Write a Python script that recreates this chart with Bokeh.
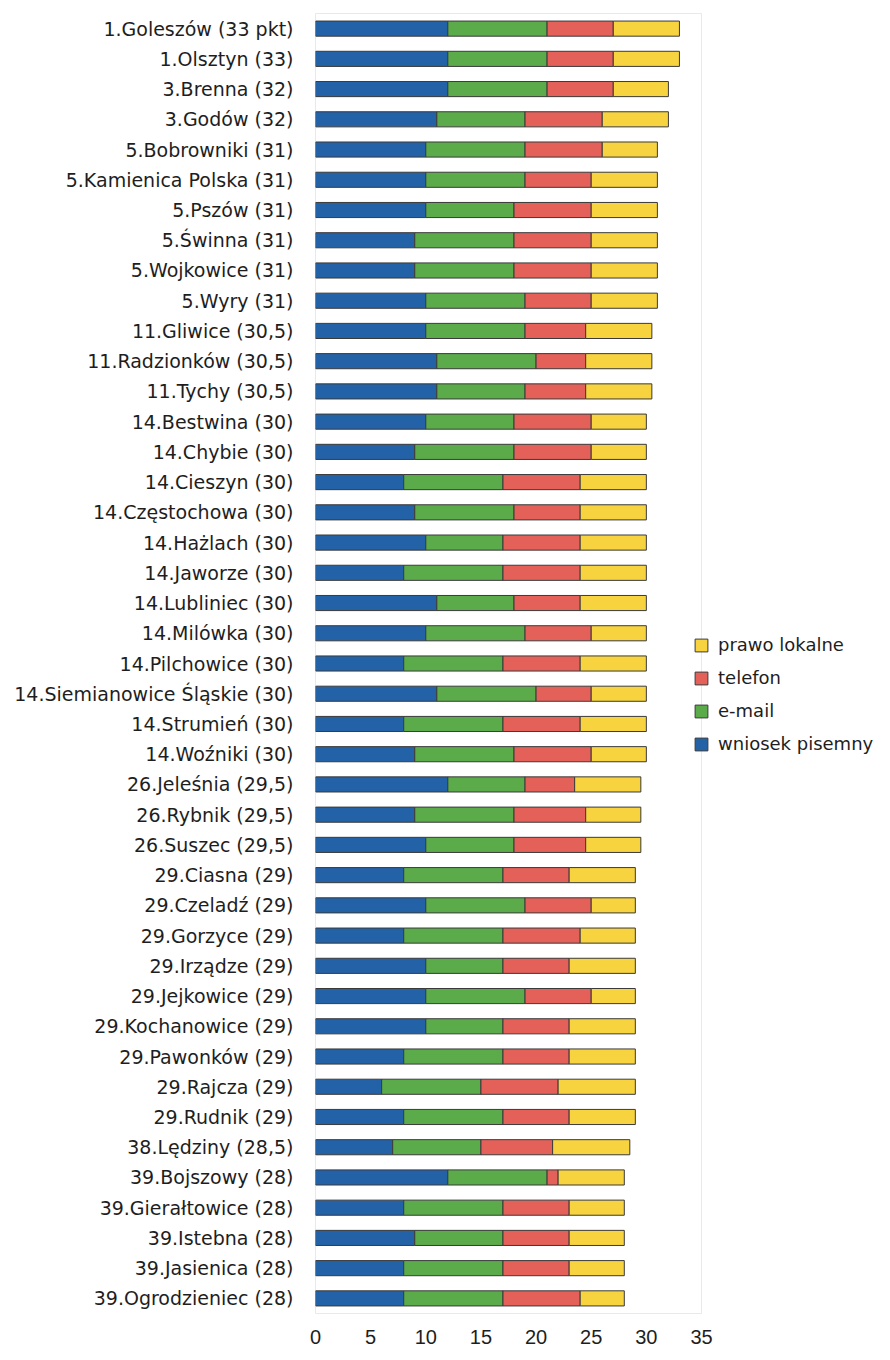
from bokeh.plotting import figure
from bokeh.models import (ColumnDataSource, FactorRange, Range1d, Legend,
                          LegendItem, FixedTicker)
from bokeh.embed import file_html
from bokeh.resources import INLINE

gminy = [
    "1.Goleszów (33 pkt)", "1.Olsztyn (33)", "3.Brenna (32)", "3.Godów (32)",
    "5.Bobrowniki (31)", "5.Kamienica Polska (31)", "5.Pszów (31)", "5.Świnna (31)",
    "5.Wojkowice (31)", "5.Wyry (31)", "11.Gliwice (30,5)", "11.Radzionków (30,5)",
    "11.Tychy (30,5)", "14.Bestwina (30)", "14.Chybie (30)", "14.Cieszyn (30)",
    "14.Częstochowa (30)", "14.Hażlach (30)", "14.Jaworze (30)", "14.Lubliniec (30)",
    "14.Milówka (30)", "14.Pilchowice (30)", "14.Siemianowice Śląskie (30)",
    "14.Strumień (30)", "14.Woźniki (30)", "26.Jeleśnia (29,5)", "26.Rybnik (29,5)",
    "26.Suszec (29,5)", "29.Ciasna (29)", "29.Czeladź (29)", "29.Gorzyce (29)",
    "29.Irządze (29)", "29.Jejkowice (29)", "29.Kochanowice (29)", "29.Pawonków (29)",
    "29.Rajcza (29)", "29.Rudnik (29)", "38.Lędziny (28,5)", "39.Bojszowy (28)",
    "39.Gierałtowice (28)", "39.Istebna (28)", "39.Jasienica (28)", "39.Ogrodzieniec (28)",
]

wniosek_pisemny = [12, 12, 12, 11, 10, 10, 10, 9, 9, 10,
                   10, 11, 11, 10, 9, 8, 9, 10, 8, 11,
                   10, 8, 11, 8, 9, 12, 9, 10, 8, 10,
                   8, 10, 10, 10, 8, 6, 8, 7, 12, 8,
                   9, 8, 8]
e_mail = [9, 9, 9, 8, 9, 9, 8, 9, 9, 9,
          9, 9, 8, 8, 9, 9, 9, 7, 9, 7,
          9, 9, 9, 9, 9, 7, 9, 8, 9, 9,
          9, 7, 9, 7, 9, 9, 9, 8, 9, 9,
          8, 9, 9]
telefon = [6, 6, 6, 7, 7, 6, 7, 7, 7, 6,
           5.5, 4.5, 5.5, 7, 7, 7, 6, 7, 7, 6,
           6, 7, 5, 7, 7, 4.5, 6.5, 6.5, 6, 6,
           7, 6, 6, 6, 6, 7, 6, 6.5, 1, 6,
           6, 6, 7]
prawo_lokalne = [6, 6, 5, 6, 5, 6, 6, 6, 6, 6,
                 6, 6, 6, 5, 5, 6, 6, 6, 6, 6,
                 5, 6, 5, 6, 5, 6, 5, 5, 6, 4,
                 5, 6, 4, 6, 6, 7, 6, 7, 6, 5,
                 5, 5, 4]

series_keys = ["wniosek", "email", "telefon", "prawo"]
series_labels = ["wniosek pisemny", "e-mail", "telefon", "prawo lokalne"]
colors = ["#2462a8", "#5cab4b", "#e4615a", "#f6d33f"]
x_ticks = [0, 5, 10, 15, 20, 25, 30, 35]

source = ColumnDataSource(data=dict(
    gmina=gminy, wniosek=wniosek_pisemny, email=e_mail,
    telefon=telefon, prawo=prawo_lokalne))

p = figure(frame_width=386, frame_height=1300,
           y_range=FactorRange(factors=list(reversed(gminy))),
           x_range=Range1d(0, 35),
           output_backend="svg", toolbar_location=None,
           min_border_left=315, min_border_right=0,
           min_border_top=13, min_border_bottom=39)

renderers = p.hbar_stack(series_keys, y="gmina", height=0.5, color=colors,
                         line_color="#3a3a3a", line_width=1, source=source)

p.xgrid.visible = False
p.ygrid.visible = False
p.outline_line_color = "#e9e9e9"
p.background_fill_color = "white"
p.border_fill_color = "white"

for ax in (p.xaxis[0], p.yaxis[0]):
    ax.axis_line_color = None
    ax.major_tick_line_color = None
    ax.minor_tick_line_color = None
    ax.major_tick_out = 0
    ax.major_tick_in = 0
    ax.major_label_text_color = "#1e1e1e"

p.yaxis.major_label_text_font = "DejaVu Sans"
p.yaxis.major_label_text_font_size = "19px"
p.yaxis.major_label_standoff = 22

p.xaxis.ticker = FixedTicker(ticks=x_ticks)
p.xaxis.major_label_text_font = "Liberation Sans"
p.xaxis.major_label_text_font_size = "20px"
p.xaxis.major_label_standoff = 16

items = [LegendItem(label=series_labels[i], renderers=[renderers[i]])
         for i in (3, 2, 1, 0)]
legend = Legend(items=items, location=(-8, 559),
                border_line_color=None, background_fill_alpha=0,
                padding=0, margin=0, glyph_width=16, glyph_height=16,
                label_height=20, spacing=12, label_standoff=9,
                label_text_font="DejaVu Sans", label_text_font_size="18px",
                label_text_color="#1e1e1e")
p.add_layout(legend, "right")

open("out.html", "w").write(file_html(p, INLINE))
